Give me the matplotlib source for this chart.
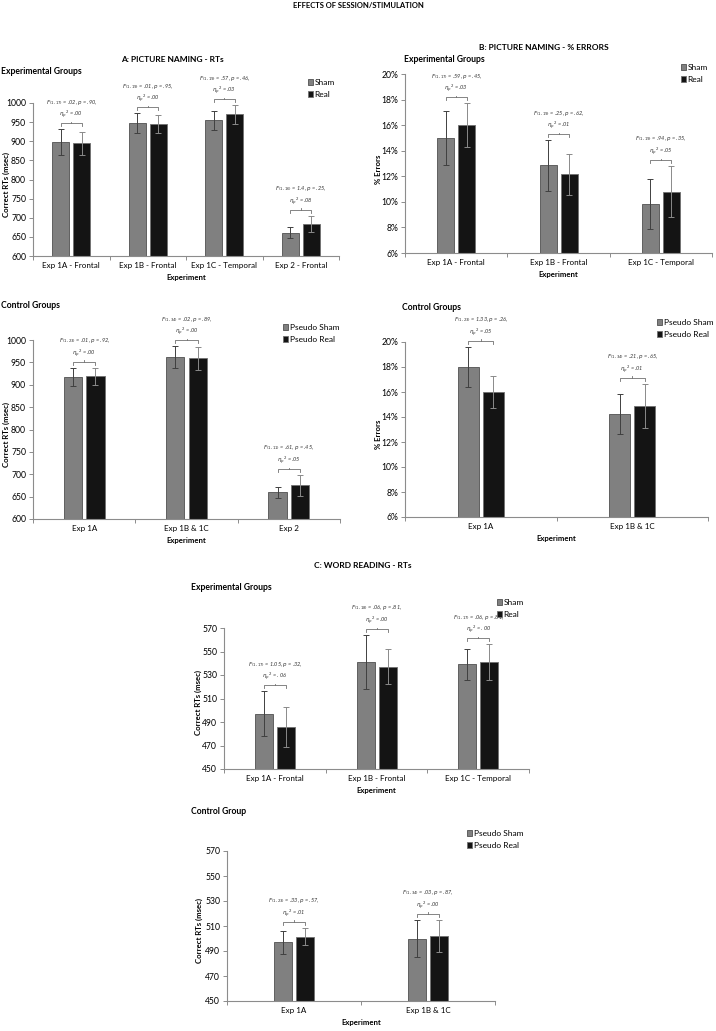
#!/usr/bin/env python3
"""
Effects of session/stimulation: picture naming RTs, % errors and word reading RTs.
Grouped bar charts with error bars and F-test annotations.
"""

import numpy as np
import matplotlib
matplotlib.use('Agg')
import matplotlib.pyplot as plt

plt.rcParams['font.family'] = ['Lato', 'DejaVu Sans']
plt.rcParams['mathtext.fontset'] = 'dejavusans'

# --- data --------------------------------------------------------------
A_exp_labels = ['Exp 1A - Frontal', 'Exp 1B - Frontal', 'Exp 1C - Temporal', 'Exp 2 - Frontal']
A_exp_sham = [897, 947, 955, 661]
A_exp_sham_err = [34, 26, 25, 15]
A_exp_real = [895, 945, 970, 684]
A_exp_real_err = [30, 23, 24, 21]
A_exp_stats = [('1,17', '.02', '.90', '.00'), ('1,19', '.01', '.95', '.00'),
               ('1,19', '.57', '.46', '.03'), ('1,16', '1.4', '.25', '.08')]

A_ctl_labels = ['Exp 1A', 'Exp 1B & 1C', 'Exp 2']
A_ctl_sham = [918, 962, 660]
A_ctl_sham_err = [20, 24, 12]
A_ctl_real = [919, 959, 675]
A_ctl_real_err = [19, 25, 23]
A_ctl_stats = [('1,23', '.01', '.92', '.00'), ('1,34', '.02', '.89', '.00'),
               ('1,11', '.61', '.45', '.05')]

B_exp_labels = ['Exp 1A - Frontal', 'Exp 1B - Frontal', 'Exp 1C - Temporal']
B_exp_sham = [15.0, 12.85, 9.8]
B_exp_sham_err = [2.1, 1.97, 1.95]
B_exp_real = [16.0, 12.15, 10.8]
B_exp_real_err = [1.7, 1.6, 2.0]
B_exp_stats = [('1,17', '.59', '.45', '.03'), ('1,19', '.25', '.62', '.01'),
               ('1,19', '.94', '.35', '.05')]

B_ctl_labels = ['Exp 1A', 'Exp 1B & 1C']
B_ctl_sham = [18.0, 14.2]
B_ctl_sham_err = [1.6, 1.6]
B_ctl_real = [16.0, 14.9]
B_ctl_real_err = [1.25, 1.75]
B_ctl_stats = [('1,23', '1.33', '.26', '.05'), ('1,34', '.21', '.65', '.01')]

C_exp_labels = ['Exp 1A - Frontal', 'Exp 1B - Frontal', 'Exp 1C - Temporal']
C_exp_sham = [497, 541, 539]
C_exp_sham_err = [19, 23, 13]
C_exp_real = [486, 537, 541]
C_exp_real_err = [17, 15, 15]
C_exp_stats = [('1,17', '1.05', '.32', '. 06'), ('1,18', '.06', '.81', '.00'),
               ('1,17', '.06', '.81', '. 00')]

C_ctl_labels = ['Exp 1A', 'Exp 1B & 1C']
C_ctl_sham = [497, 500]
C_ctl_sham_err = [9, 15]
C_ctl_real = [501.5, 502]
C_ctl_real_err = [7, 13]
C_ctl_stats = [('1,23', '.33', '.57', '.01'), ('1,34', '.03', '.87', '.00')]

W, H = 716, 1031
SHAM_COLOR = '#808080'
REAL_COLOR = '#141414'
AXIS_COLOR = '#8c8c8c'


def add_ax(fig, l, t, r, b):
    """Add axes from pixel box (left, top, right, bottom)."""
    return fig.add_axes([l / W, 1 - b / H, (r - l) / W, (b - t) / H])


def draw_panel(fig, box, labels, sham, sham_err, real, real_err, stats,
               ylim, yticks, yfmt, ylabel, bar_px, legend_xy, legend_labels,
               ylabel_px):
    ax = add_ax(fig, *box)
    n = len(labels)
    x = np.arange(n)
    cat_px = (box[2] - box[0]) / n
    w = bar_px / cat_px
    off = (bar_px + 4) / 2 / cat_px
    ax_h_px = box[3] - box[1]
    dpp = (ylim[1] - ylim[0]) / ax_h_px

    b1 = ax.bar(x - off, sham, w, color=SHAM_COLOR, edgecolor='#505050',
                linewidth=0.6, label=legend_labels[0], zorder=2)
    b2 = ax.bar(x + off, real, w, color=REAL_COLOR, edgecolor='#707070',
                linewidth=0.6, label=legend_labels[1], zorder=2)
    ax.errorbar(x - off, sham, yerr=sham_err, fmt='none', ecolor='#404040',
                elinewidth=0.7, capsize=2, capthick=0.7, zorder=3)
    ax.errorbar(x + off, real, yerr=real_err, fmt='none', ecolor='#8a8a8a',
                elinewidth=0.7, capsize=2, capthick=0.7, zorder=3)

    # significance brackets with F-test text
    for i in range(n):
        top = max(sham[i] + sham_err[i], real[i] + real_err[i])
        yb = top + 6 * dpp
        x0, x1 = i - off, i + off
        ax.plot([x0, x0, x1, x1], [yb - 3 * dpp, yb, yb, yb - 3 * dpp],
                color='#707070', lw=0.6, clip_on=False)
        ax.plot([i, i], [yb, yb + 1.5 * dpp], color='#707070', lw=0.6, clip_on=False)
        df, fval, p, eta = stats[i]
        txt = (r'$F_{(' + df + r')}$ = ' + fval + r', $p$ = ' + p + ',\n'
               + r'$\eta_p$$^{2}$ = ' + eta)
        ax.text(i, yb + 3 * dpp, txt, ha='center', va='bottom', fontsize=4,
                style='italic', color='#333333', linespacing=1.3, clip_on=False)

    ax.set_ylim(*ylim)
    ax.set_yticks(yticks)
    ax.set_yticklabels([yfmt(v) for v in yticks])
    ax.set_xlim(-0.5, n - 0.5)
    ax.set_xticks(np.arange(n + 1) - 0.5)
    ax.set_xticklabels([])
    ax.set_xticks(x, minor=True)
    ax.set_xticklabels(labels, minor=True)
    ax.tick_params(axis='x', which='minor', length=0, labelsize=5.8, pad=4)
    ax.tick_params(axis='x', which='major', length=3, color=AXIS_COLOR, width=0.7)
    ax.tick_params(axis='y', length=3, color=AXIS_COLOR, width=0.7, labelsize=6.2, pad=2)
    for s in ['top', 'right']:
        ax.spines[s].set_visible(False)
    for s in ['left', 'bottom']:
        ax.spines[s].set_color(AXIS_COLOR)
        ax.spines[s].set_linewidth(0.8)
    ax.set_xlabel('Experiment', fontsize=5.6, fontweight='bold', labelpad=4)
    ax.set_ylabel(ylabel, fontsize=5.6, fontweight='bold')
    # right edge of the rotated label at a given pixel column
    ax.yaxis.set_label_coords((ylabel_px - box[0]) / (box[2] - box[0]), 0.47)

    lx, ly = legend_xy
    ax.legend(handles=[b1, b2], loc='upper left', frameon=False,
              bbox_to_anchor=(lx / W, 1 - (ly - 6) / H), bbox_transform=fig.transFigure,
              borderaxespad=0, borderpad=0, handlelength=0.6, handleheight=0.8,
              handletextpad=0.2, labelspacing=0.6, fontsize=6)
    return ax


def main():
    fig = plt.figure(figsize=(W / 100, H / 100), dpi=100)

    fig.text(358 / W, 1 - 5 / H, 'EFFECTS OF SESSION/STIMULATION', ha='center',
             va='center', fontsize=5.5, fontweight='bold')

    rt = lambda v: f'{v:d}'
    pct = lambda v: f'{v:d}%'

    # A: picture naming RTs
    fig.text(172 / W, 1 - 60 / H, 'A: PICTURE NAMING - RTs', ha='center',
             va='center', fontsize=6, fontweight='bold')
    fig.text(1 / W, 1 - 71 / H, 'Experimental Groups', ha='left', va='center',
             fontsize=6.2, fontweight='bold')
    draw_panel(fig, (33, 103, 339, 256), A_exp_labels, A_exp_sham, A_exp_sham_err,
               A_exp_real, A_exp_real_err, A_exp_stats, (600, 1000),
               list(range(600, 1001, 50)), rt, 'Correct RTs (msec)', 17,
               (308, 85), ['Sham', 'Real'], ylabel_px=10)

    fig.text(1 / W, 1 - 306 / H, 'Control Groups', ha='left', va='center',
             fontsize=6.2, fontweight='bold')
    draw_panel(fig, (33, 340, 340, 519), A_ctl_labels, A_ctl_sham, A_ctl_sham_err,
               A_ctl_real, A_ctl_real_err, A_ctl_stats, (600, 1000),
               list(range(600, 1001, 50)), rt, 'Correct RTs (msec)', 18.5,
               (283, 330), ['Pseudo Sham', 'Pseudo Real'], ylabel_px=10)

    # B: picture naming % errors
    fig.text(544 / W, 1 - 47 / H, 'B: PICTURE NAMING - % ERRORS', ha='center',
             va='center', fontsize=6, fontweight='bold')
    fig.text(404 / W, 1 - 59 / H, 'Experimental Groups', ha='left', va='center',
             fontsize=6.2, fontweight='bold')
    draw_panel(fig, (405, 74, 712, 253), B_exp_labels, B_exp_sham, B_exp_sham_err,
               B_exp_real, B_exp_real_err, B_exp_stats, (6, 20),
               list(range(6, 21, 2)), pct, '% Errors', 17,
               (681, 70), ['Sham', 'Real'], ylabel_px=382)

    fig.text(402 / W, 1 - 307 / H, 'Control Groups', ha='left', va='center',
             fontsize=6.2, fontweight='bold')
    draw_panel(fig, (405, 342, 708, 517), B_ctl_labels, B_ctl_sham, B_ctl_sham_err,
               B_ctl_real, B_ctl_real_err, B_ctl_stats, (6, 20),
               list(range(6, 21, 2)), pct, '% Errors', 21,
               (657, 325), ['Pseudo Sham', 'Pseudo Real'], ylabel_px=382)

    # C: word reading RTs
    fig.text(363 / W, 1 - 565 / H, 'C: WORD READING - RTs', ha='center',
             va='center', fontsize=6, fontweight='bold')
    fig.text(191 / W, 1 - 587 / H, 'Experimental Groups', ha='left', va='center',
             fontsize=6.2, fontweight='bold')
    draw_panel(fig, (224, 628, 529, 769), C_exp_labels, C_exp_sham, C_exp_sham_err,
               C_exp_real, C_exp_real_err, C_exp_stats, (450, 570),
               list(range(450, 571, 20)), rt, 'Correct RTs (msec)', 18,
               (497, 605), ['Sham', 'Real'], ylabel_px=202)

    fig.text(191 / W, 1 - 811 / H, 'Control Group', ha='left', va='center',
             fontsize=6.2, fontweight='bold')
    draw_panel(fig, (227, 851, 495, 1001), C_ctl_labels, C_ctl_sham, C_ctl_sham_err,
               C_ctl_real, C_ctl_real_err, C_ctl_stats, (450, 570),
               list(range(450, 571, 20)), rt, 'Correct RTs (msec)', 18,
               (467, 836), ['Pseudo Sham', 'Pseudo Real'], ylabel_px=203)

    fig.savefig('out.png', dpi=100)


if __name__ == "__main__":
    main()
